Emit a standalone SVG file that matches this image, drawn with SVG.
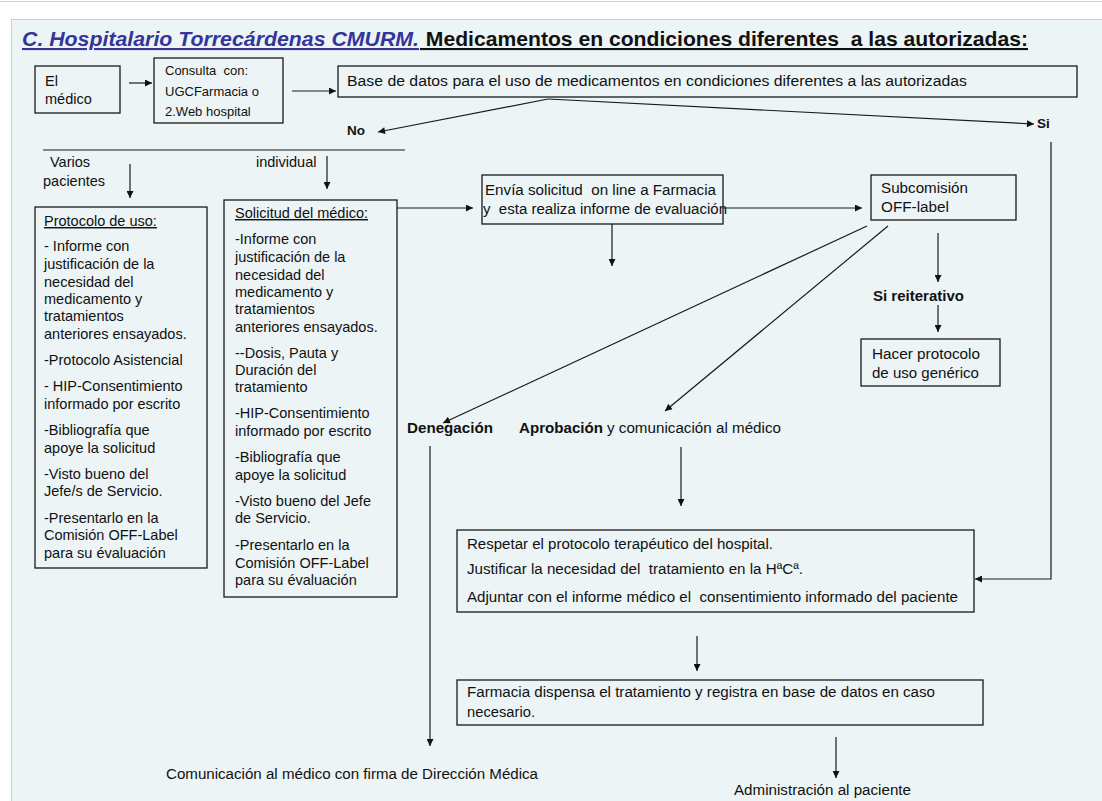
<svg xmlns="http://www.w3.org/2000/svg" width="1102" height="801" viewBox="0 0 1102 801">
<style>
.t{font-family:"Liberation Sans",Arial,sans-serif;font-size:14.5px;fill:#111}
.n{font-family:"Liberation Sans",Arial,sans-serif;font-size:14px;fill:#111}
.b{font-weight:bold}
.box{fill:none;stroke:#1a1a1a;stroke-width:1.3}
.c{fill:none;stroke:#1a1a1a;stroke-width:1.2}
</style>
<defs>
<marker id="ah" viewBox="0 0 10 10" refX="10" refY="5" markerWidth="9" markerHeight="7" markerUnits="userSpaceOnUse" orient="auto">
<path d="M0,0 L10,5 L0,10 z" fill="#111"/>
</marker>
</defs>
<rect x="0" y="0" width="1102" height="801" fill="#ffffff"/>
<line x1="0" y1="1.5" x2="1102" y2="1.5" stroke="#d4d4d4" stroke-width="1"/>
<rect x="11.5" y="19.5" width="1100" height="800" fill="#ECF4F6" stroke="#c9cfd2" stroke-width="1"/>

<g id="title">
<text x="22" y="46" textLength="397" lengthAdjust="spacingAndGlyphs" style="font-family:'Liberation Sans',Arial,sans-serif;font-size:21px;font-weight:bold;font-style:italic;fill:#34349a;text-decoration:underline">C. Hospitalario Torrecárdenas CMURM.</text>
<text x="420" y="46" textLength="608" lengthAdjust="spacingAndGlyphs" style="font-family:'Liberation Sans',Arial,sans-serif;font-size:21px;font-weight:bold;fill:#111;text-decoration:underline" xml:space="preserve"> Medicamentos en condiciones diferentes  a las autorizadas:</text>
</g>

<g id="medico">
<rect class="box" x="35" y="66" width="85" height="47"/>
<text class="t" x="45" y="86">El</text>
<text class="t" x="45" y="104">médico</text>
</g>

<g id="consulta">
<rect class="box" x="154" y="58" width="129" height="65"/>
<text class="n" x="165" y="75" style="font-size:13px" xml:space="preserve">Consulta  con:</text>
<text class="n" x="165" y="96" style="font-size:13px">UGCFarmacia o</text>
<text class="n" x="165" y="116" style="font-size:13px">2.Web hospital</text>
</g>

<g id="basedatos">
<rect class="box" x="338" y="66" width="739" height="31"/>
<text class="n" x="347" y="86" textLength="620" lengthAdjust="spacingAndGlyphs">Base de datos para el uso de medicamentos en condiciones diferentes a las autorizadas</text>
</g>

<g id="no"><text class="n b" x="347" y="135" style="font-size:13.5px">No</text></g>
<g id="si"><text class="n b" x="1037" y="128" style="font-size:13.5px">Si</text></g>

<g id="varios"><text class="t" x="50" y="167">Varios</text><text class="t" x="43" y="186">pacientes</text></g>
<g id="individual"><text class="t" x="256" y="167">individual</text></g>

<g id="protocolo">
<rect class="box" x="35" y="207" width="172" height="361"/>
<text class="t" x="44" y="226" style="text-decoration:underline">Protocolo de uso:</text>
<text class="t">
<tspan x="44" y="251">- Informe con</tspan>
<tspan x="44" y="269">justificación de la</tspan>
<tspan x="44" y="287">necesidad del</tspan>
<tspan x="44" y="304">medicamento y</tspan>
<tspan x="44" y="321">tratamientos</tspan>
<tspan x="44" y="339">anteriores ensayados.</tspan>
<tspan x="44" y="365">-Protocolo Asistencial</tspan>
<tspan x="44" y="391">- HIP-Consentimiento</tspan>
<tspan x="44" y="409">informado por escrito</tspan>
<tspan x="44" y="435">-Bibliografía que</tspan>
<tspan x="44" y="453">apoye la solicitud</tspan>
<tspan x="44" y="479">-Visto bueno del</tspan>
<tspan x="44" y="496">Jefe/s de Servicio.</tspan>
<tspan x="44" y="523">-Presentarlo en la</tspan>
<tspan x="44" y="540">Comisión OFF-Label</tspan>
<tspan x="44" y="558">para su évaluación</tspan>
</text>
</g>

<g id="solicitud">
<rect class="box" x="224" y="200" width="173" height="397"/>
<text class="t" x="235" y="218" style="text-decoration:underline">Solicitud del médico:</text>
<text class="t">
<tspan x="235" y="244">-Informe con</tspan>
<tspan x="235" y="262">justificación de la</tspan>
<tspan x="235" y="280">necesidad del</tspan>
<tspan x="235" y="297">medicamento y</tspan>
<tspan x="235" y="314">tratamientos</tspan>
<tspan x="235" y="332">anteriores ensayados.</tspan>
<tspan x="235" y="358">--Dosis, Pauta y</tspan>
<tspan x="235" y="375">Duración del</tspan>
<tspan x="235" y="392">tratamiento</tspan>
<tspan x="235" y="418">-HIP-Consentimiento</tspan>
<tspan x="235" y="436">informado por escrito</tspan>
<tspan x="235" y="462">-Bibliografía que</tspan>
<tspan x="235" y="480">apoye la solicitud</tspan>
<tspan x="235" y="506">-Visto bueno del Jefe</tspan>
<tspan x="235" y="523">de Servicio.</tspan>
<tspan x="235" y="550">-Presentarlo en la</tspan>
<tspan x="235" y="568">Comisión OFF-Label</tspan>
<tspan x="235" y="585">para su évaluación</tspan>
</text>
</g>

<g id="envia">
<rect class="box" x="482" y="175" width="241" height="49"/>
<text class="n" x="485" y="195" textLength="231" lengthAdjust="spacingAndGlyphs" xml:space="preserve">Envía solicitud  on line a Farmacia</text>
<text class="n" x="483" y="214" textLength="244" lengthAdjust="spacingAndGlyphs" xml:space="preserve">y  esta realiza informe de evaluación</text>
</g>

<g id="subcomision">
<rect class="box" x="871" y="175" width="145" height="45"/>
<text class="n" x="881" y="193" textLength="87" lengthAdjust="spacingAndGlyphs">Subcomisión</text>
<text class="n" x="881" y="212" textLength="68" lengthAdjust="spacingAndGlyphs">OFF-label</text>
</g>

<g id="reiterativo"><text class="n b" x="873" y="301" textLength="91" lengthAdjust="spacingAndGlyphs">Si reiterativo</text></g>

<g id="hacer">
<rect class="box" x="861" y="339" width="139" height="47"/>
<text class="n" x="872" y="359" textLength="108" lengthAdjust="spacingAndGlyphs">Hacer protocolo</text>
<text class="n" x="872" y="378" textLength="107" lengthAdjust="spacingAndGlyphs">de uso genérico</text>
</g>

<g id="denegacion"><text class="n b" x="407" y="433" textLength="86" lengthAdjust="spacingAndGlyphs">Denegación</text></g>
<g id="aprobacion">
<text class="n b" x="519" y="433" textLength="84" lengthAdjust="spacingAndGlyphs">Aprobación</text>
<text class="n" x="607" y="433" textLength="174" lengthAdjust="spacingAndGlyphs">y comunicación al médico</text>
</g>

<g id="respetar">
<rect class="box" x="457" y="530" width="517" height="82"/>
<text class="n" x="467" y="549" textLength="306" lengthAdjust="spacingAndGlyphs">Respetar el protocolo terapéutico del hospital.</text>
<text class="n" x="467" y="574" textLength="336" lengthAdjust="spacingAndGlyphs" xml:space="preserve">Justificar la necesidad del  tratamiento en la HªCª.</text>
<text class="n" x="467" y="602" textLength="491" lengthAdjust="spacingAndGlyphs" xml:space="preserve">Adjuntar con el informe médico el  consentimiento informado del paciente</text>
</g>

<g id="farmacia">
<rect class="box" x="457" y="680" width="526" height="45"/>
<text class="n" x="467" y="697" textLength="468" lengthAdjust="spacingAndGlyphs">Farmacia dispensa el tratamiento y registra en base de datos en caso</text>
<text class="n" x="467" y="717" textLength="68" lengthAdjust="spacingAndGlyphs">necesario.</text>
</g>

<g id="comunicacion"><text class="n" x="166" y="779" textLength="372" lengthAdjust="spacingAndGlyphs">Comunicación al médico con firma de Dirección Médica</text></g>
<g id="administracion"><text class="n" x="734" y="795" textLength="177" lengthAdjust="spacingAndGlyphs">Administración al paciente</text></g>

<g id="connectors">
<line class="c" x1="129" y1="83" x2="152" y2="83" marker-end="url(#ah)"/>
<line class="c" x1="292" y1="91" x2="336" y2="91" marker-end="url(#ah)"/>
<line class="c" x1="548" y1="99" x2="378" y2="132" marker-end="url(#ah)"/>
<line class="c" x1="548" y1="99" x2="1034" y2="124" marker-end="url(#ah)"/>
<line class="c" x1="43" y1="150" x2="405" y2="150"/>
<line class="c" x1="130" y1="164" x2="130" y2="198" marker-end="url(#ah)"/>
<line class="c" x1="327" y1="156" x2="327" y2="189" marker-end="url(#ah)"/>
<line class="c" x1="397" y1="208" x2="473" y2="208" marker-end="url(#ah)"/>
<line class="c" x1="723" y1="208" x2="862" y2="208" marker-end="url(#ah)"/>
<line class="c" x1="612" y1="224" x2="612" y2="266" marker-end="url(#ah)"/>
<line class="c" x1="938" y1="233" x2="938" y2="282" marker-end="url(#ah)"/>
<line class="c" x1="938" y1="305" x2="938" y2="332" marker-end="url(#ah)"/>
<line class="c" x1="867" y1="226" x2="443" y2="423" marker-end="url(#ah)"/>
<line class="c" x1="888" y1="226" x2="665" y2="411" marker-end="url(#ah)"/>
<line class="c" x1="430" y1="446" x2="430" y2="746" marker-end="url(#ah)"/>
<line class="c" x1="681" y1="447" x2="681" y2="506" marker-end="url(#ah)"/>
<polyline class="c" points="1051,142 1051,579 975,579" marker-end="url(#ah)"/>
<line class="c" x1="697" y1="636" x2="697" y2="671" marker-end="url(#ah)"/>
<line class="c" x1="836" y1="737" x2="836" y2="778" marker-end="url(#ah)"/>
</g>
</svg>
